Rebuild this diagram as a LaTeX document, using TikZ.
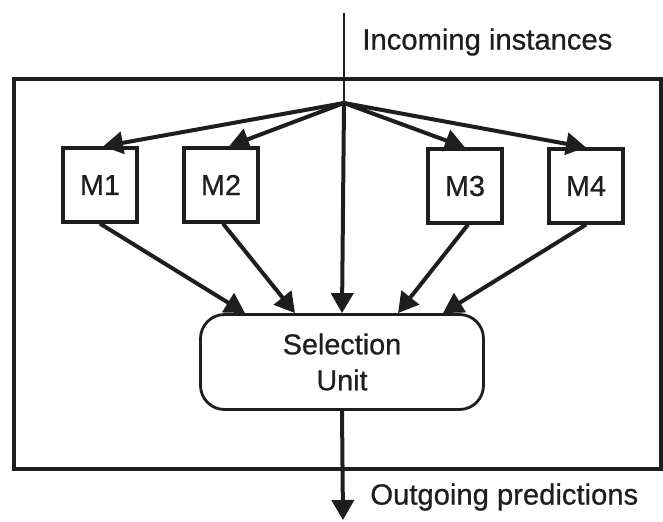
\documentclass[tikz,border=0pt]{standalone}
\usepackage{fontspec}
\setmainfont[BoldFont={Liberation Sans},BoldFeatures={FakeBold=0.7}]{Liberation Sans}
\usetikzlibrary{arrows.meta}
\definecolor{ink}{HTML}{1E1E1E}
\tikzset{
  mbox/.style={draw=ink, line width=1.6pt, minimum width=37pt, minimum height=37pt, inner sep=0pt, font=\fontsize{14.4}{17}\selectfont\bfseries, text=ink},
  selbox/.style={draw=ink, line width=1.4pt, rounded corners=12pt, minimum width=141.5pt, minimum height=47.5pt, inner sep=0pt, align=center, font=\fontsize{14.4}{17}\selectfont\bfseries, text=ink},
  lbl/.style={font=\fontsize{14.6}{17}\selectfont\bfseries, text=ink, inner sep=0pt, anchor=west},
  arr/.style={draw=ink, line width=2pt, -{Triangle[length=10pt,width=11pt]}},
  plain/.style={draw=ink, line width=1.4pt},
  frame/.style={draw=ink, line width=1.6pt}
}
\begin{document}
\begin{tikzpicture}[x=0.5pt,y=-0.5pt]
\useasboundingbox (0,0) rectangle (663,521);
\draw[frame] (14,79) rectangle (661,469);
\coordinate (top) at (344,13);
\coordinate (br) at (344,103);
\coordinate (bot) at (343,520);
\node[mbox] (m1) at (100,185) {M1};
\node[mbox] (m2) at (221,185) {M2};
\node[mbox] (m3) at (465,186) {M3};
\node[mbox] (m4) at (586,186) {M4};
\node[selbox] (sel) at (342,362) {Selection\\[1pt]Unit};
\node[lbl] (inc) at (362,42) {Incoming instances};
\node[lbl] (out) at (370,497) {Outgoing predictions};
\draw[plain] (top) -- (br);
\draw[arr] (br) -- ([xshift=1.5pt]m1.north);
\draw[arr] (br) -- ([xshift=4pt]m2.north);
\draw[arr] (br) -- (m3.north);
\draw[arr] (br) -- (m4.north);
\draw[arr] (br) -- (sel.north);
\draw[arr] (m1.south) -- ([xshift=-48.5pt]sel.north);
\draw[arr] ([xshift=1pt]m2.south) -- ([xshift=-23.5pt]sel.north);
\draw[arr] ([xshift=1.5pt]m3.south) -- ([xshift=28pt]sel.north);
\draw[arr] (m4.south) -- ([xshift=50.5pt]sel.north);
\draw[arr] (sel.south) -- (bot);
\end{tikzpicture}
\end{document}
